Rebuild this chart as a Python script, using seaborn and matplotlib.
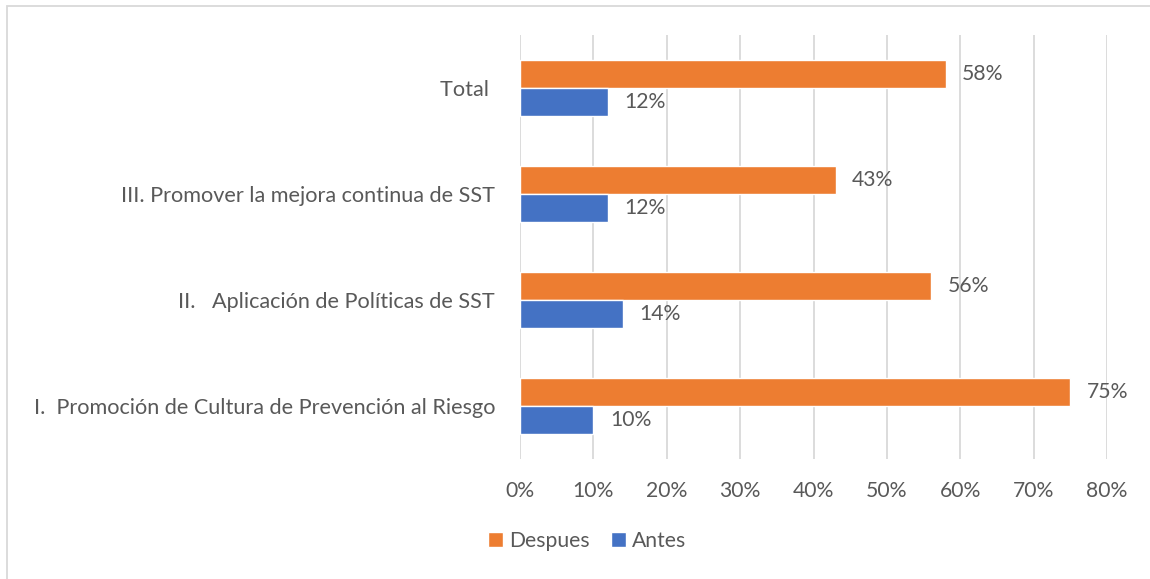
import pandas as pd
import matplotlib.pyplot as plt
import seaborn as sns
from matplotlib.patches import Rectangle

categorias = ['Total ',
              'III. Promover la mejora continua de SST',
              'II.   Aplicación de Políticas de SST',
              'I.  Promoción de Cultura de Prevención al Riesgo']
despues = [0.58, 0.43, 0.56, 0.75]
antes = [0.12, 0.12, 0.14, 0.10]
ticks = [0, 0.1, 0.2, 0.3, 0.4, 0.5, 0.6, 0.7, 0.8]
tick_labels = ['0%', '10%', '20%', '30%', '40%', '50%', '60%', '70%', '80%']

df = pd.DataFrame({'Categoria': categorias * 2,
                   'Valor': despues + antes,
                   'Serie': ['Despues'] * 4 + ['Antes'] * 4})

sns.set_theme(style='white')
plt.rcParams['font.family'] = ['Lato', 'DejaVu Sans']
gris = '#595959'
fs = 15.2

fig = plt.figure(figsize=(11.5, 5.79), dpi=100)
ax = fig.add_axes([520 / 1150, 1 - 459 / 579, (1107 - 520) / 1150, (459 - 35) / 579])

sns.barplot(data=df, y='Categoria', x='Valor', hue='Serie', order=categorias,
            hue_order=['Despues', 'Antes'], palette=['#ED7D31', '#4472C4'],
            width=0.52, orient='h', ax=ax, legend=True, saturation=1)

for cont in ax.containers:
    ax.bar_label(cont, labels=[f'{v * 100:.0f}%' for v in cont.datavalues],
                 padding=12, color=gris, fontsize=fs)

ax.set_xlim(0, 0.8)
ax.set_xticks(ticks)
ax.set_xticklabels(tick_labels)
ax.xaxis.grid(True, color='#D9D9D9', linewidth=1.3)
ax.set_axisbelow(True)
for s in ax.spines.values():
    s.set_visible(False)
ax.tick_params(axis='x', length=0, pad=16, labelsize=fs, labelcolor=gris)
ax.tick_params(axis='y', length=0, pad=18, labelsize=15.6, labelcolor=gris)
ax.set_xlabel('')
ax.set_ylabel('')

handles, labels = ax.get_legend_handles_labels()
ax.get_legend().remove()
fig.legend(handles, labels, loc='center', bbox_to_anchor=(587 / 1150, 1 - 541 / 579),
           ncol=2, frameon=False, fontsize=fs, labelcolor=gris,
           handlelength=0.7, handleheight=0.7, handletextpad=0.3, columnspacing=1.0)

fig.patches.append(Rectangle((7 / 1150, -0.1), 1.2, 1 - 6 / 579 + 0.1,
                             transform=fig.transFigure, fill=False,
                             edgecolor='#D9D9D9', linewidth=1.3))

fig.savefig('out.png', dpi=100)
